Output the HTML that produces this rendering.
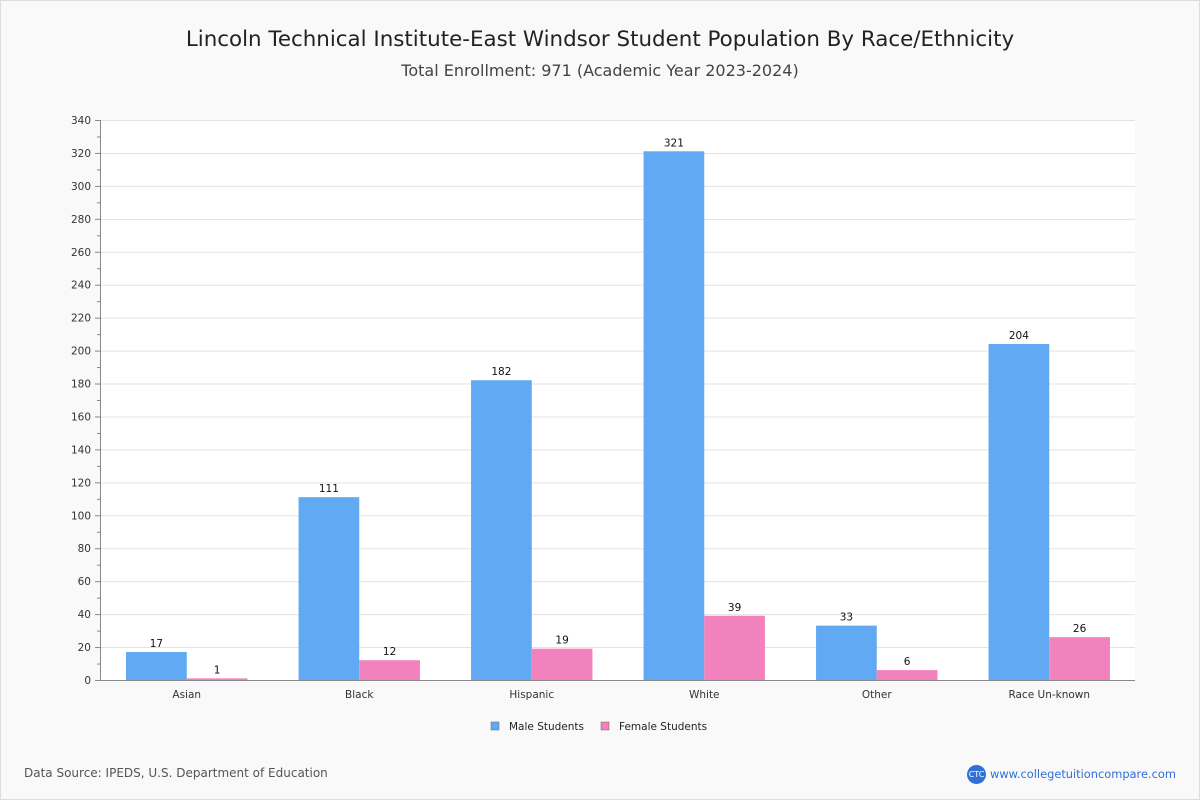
<!DOCTYPE html>
<html><head><meta charset="utf-8"><style>
body{margin:0;background:#fff}
#wrap{position:relative;width:1198px;height:798px;border:1px solid #ddd;background:#f9f9f9;font-family:"DejaVu Sans","Liberation Sans",sans-serif;overflow:hidden}
.t{position:absolute;left:0;width:100%;text-align:center;color:#222}
</style></head><body>
<div id="wrap">
<div class="t" style="top:26px;font-size:21.4px">Lincoln Technical Institute-East Windsor Student Population By Race/Ethnicity</div>
<div class="t" style="top:60px;font-size:16px;color:#444">Total Enrollment: 971 (Academic Year 2023-2024)</div>
<svg id="c" width="1200" height="800" style="position:absolute;left:-1px;top:-1px"></svg>
<div style="position:absolute;left:23px;top:765px;font-size:12px;color:#555">Data Source: IPEDS, U.S. Department of Education</div>
<div style="position:absolute;left:966px;top:764px;width:19px;height:19px;border-radius:50%;background:#2f6fd8;color:#fff;font-size:8px;line-height:19px;text-align:center">CTC</div>
<div style="position:absolute;left:989px;top:766px;font-size:11.4px;color:#2f6fd8">www.collegetuitioncompare.com</div>
</div>
<script>
const categories=["Asian","Black","Hispanic","White","Other","Race Un-known"];
const maleValues=[17,111,182,321,33,204];
const femaleValues=[1,12,19,39,6,26];
const yTicks=[0,20,40,60,80,100,120,140,160,180,200,220,240,260,280,300,320,340];
const NS="http://www.w3.org/2000/svg";
const svg=document.getElementById('c');
const L=100,R=1135,T=120,B=680,MAX=340;
const y=v=>B-(v/MAX)*(B-T);
const bw=(R-L)/categories.length;
const xc=i=>L+0.5+bw*(i+0.5);
function mk(t,a,txt){const e=document.createElementNS(NS,t);for(const k in a)e.setAttribute(k,a[k]);if(txt!==undefined)e.textContent=txt;svg.appendChild(e);return e;}
let bg=mk('rect',{x:L,y:T,width:R-L,height:B-T,fill:'#fff'});


yTicks.forEach(v=>{
 const g=mk('line',{x1:L,x2:R,y1:y(v)+0.5,y2:y(v)+0.5,stroke:'#e3e3e3'});
 
 
 mk('line',{x1:95,x2:L,y1:y(v)+0.5,y2:y(v)+0.5,stroke:'#888'});
 if(v<MAX)mk('line',{x1:97,x2:L,y1:y(v+10)+0.5,y2:y(v+10)+0.5,stroke:'#888'});
 const t=mk('text',{x:91,y:y(v)+4,'text-anchor':'end','font-size':10.5,fill:'#333'},v);
 
 
});
mk('line',{x1:L+0.5,x2:L+0.5,y1:T,y2:B,stroke:'#888'});
mk('line',{x1:L,x2:R,y1:B+0.5,y2:B+0.5,stroke:'#888'});
const w=60.7;
categories.forEach((c,i)=>{
 const cx=xc(i);
 const m=mk('rect',{x:cx-w,y:y(maleValues[i]),width:w,height:B-y(maleValues[i]),fill:'#61a9f3'});
 
 
 const f=mk('rect',{x:cx,y:y(femaleValues[i]),width:w,height:B-y(femaleValues[i]),fill:'#f282bd'});
 
 
 const a=mk('text',{x:cx-w/2,y:y(maleValues[i])-5,'text-anchor':'middle','font-size':10.5,fill:'#111'},maleValues[i]);
 
 
 const b=mk('text',{x:cx+w/2,y:y(femaleValues[i])-5,'text-anchor':'middle','font-size':10.5,fill:'#111'},femaleValues[i]);
 
 
 const xl=mk('text',{x:cx,y:698,'text-anchor':'middle','font-size':10.5,fill:'#333'},c);
 
 
});
[["Male Students","#61a9f3",491],["Female Students","#f282bd",601]].forEach(([n,col,x0])=>{
 const r=mk('rect',{x:x0,y:722,width:8,height:8,fill:col,stroke:'#666','stroke-width':0.5});
 
 
 const t=mk('text',{x:x0+18,y:730,'font-size':10.5,fill:'#222'},n);
 
 
});
</script>
</body></html>
